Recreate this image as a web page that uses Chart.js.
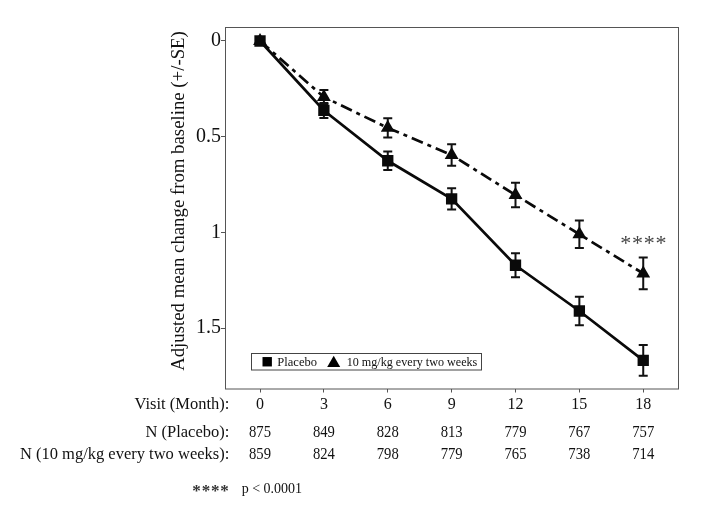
<!DOCTYPE html>
<html>
<head>
<meta charset="utf-8">
<script src="https://cdn.jsdelivr.net/npm/chart.js@4.4.1/dist/chart.umd.min.js"></script>
<style>
  html, body { margin: 0; padding: 0; background: #fff; }
  #wrap { position: relative; width: 718px; height: 507px; }
</style>
</head>
<body>
<div id="wrap"><canvas id="c"></canvas></div>
<script>
// ---- data ----
const months = [0, 3, 6, 9, 12, 15, 18];
const placeboMean = [0, 0.363, 0.626, 0.825, 1.172, 1.411, 1.669];
const placeboSE   = [0, 0.039, 0.048, 0.055, 0.063, 0.075, 0.080];
const treatMean   = [0, 0.293, 0.454, 0.596, 0.805, 1.010, 1.215];
const treatSE     = [0, 0.037, 0.050, 0.056, 0.064, 0.072, 0.083];
const nPlacebo = [875, 849, 828, 813, 779, 767, 757];
const nTreat   = [859, 824, 798, 779, 765, 738, 714];
const yTicks = [0, 0.5, 1, 1.5];
const seriesLabels = ['Placebo', '10 mg/kg every two weeks'];
const rowLabels = ['Visit (Month):', 'N (Placebo):', 'N (10 mg/kg every two weeks):'];
const yTitle = 'Adjusted mean change from baseline (+/-SE)';
const sigMark = '****';
const footnote = 'p < 0.0001';

const SERIF = '"Liberation Serif", "Times New Roman", serif';

const toPoints = (xs, ys) => xs.map((x, i) => ({ x: x, y: ys[i] }));

// draw text squeezed horizontally to a target width
function fitText(ctx, text, x, y, width, align) {
  const w = ctx.measureText(text).width;
  const k = Math.min(1, width / w);
  ctx.save();
  ctx.translate(x, y);
  ctx.scale(k, 1);
  ctx.textAlign = align;
  ctx.fillText(text, 0, 0);
  ctx.restore();
}

const extras = {
  id: 'extras',
  beforeDatasetsDraw(chart) {
    const ctx = chart.ctx, xs = chart.scales.x, ys = chart.scales.y;
    ctx.save();
    ctx.strokeStyle = '#111';
    ctx.lineWidth = 2;
    const cap = 4.5;
    [[placeboMean, placeboSE], [treatMean, treatSE]].forEach(([m, se]) => {
      months.forEach((mo, i) => {
        if (!se[i]) return;
        const px = xs.getPixelForValue(mo);
        const y1 = ys.getPixelForValue(m[i] - se[i]);
        const y2 = ys.getPixelForValue(m[i] + se[i]);
        ctx.beginPath();
        ctx.moveTo(px, y1); ctx.lineTo(px, y2);
        ctx.moveTo(px - cap, y1); ctx.lineTo(px + cap, y1);
        ctx.moveTo(px - cap, y2); ctx.lineTo(px + cap, y2);
        ctx.stroke();
      });
    });
    ctx.restore();
  },
  afterDraw(chart) {
    const ctx = chart.ctx, xs = chart.scales.x, ys = chart.scales.y, a = chart.chartArea;
    ctx.save();
    // plot box
    ctx.strokeStyle = '#555';
    ctx.lineWidth = 1;
    ctx.strokeRect(a.left + 0.5, a.top + 0.5, a.right - a.left - 1, a.bottom - a.top);

    // y title
    ctx.save();
    ctx.fillStyle = '#111';
    ctx.font = '18.8px ' + SERIF;
    ctx.translate(183.5, 201);
    ctx.rotate(-Math.PI / 2);
    ctx.textAlign = 'center';
    ctx.textBaseline = 'alphabetic';
    ctx.fillText(yTitle, 0, 0);
    ctx.restore();

    // significance stars in plot
    ctx.fillStyle = '#444';
    ctx.font = '22px ' + SERIF;
    ctx.textAlign = 'center';
    ctx.textBaseline = 'alphabetic';
    const sx = xs.getPixelForValue(18), sy = ys.getPixelForValue(1.036);
    for (let k = 0; k < sigMark.length; k++) {
      ctx.fillText(sigMark[k], sx - 17.6 + k * 11.75, sy + 10.3);
    }

    // legend box
    const lx = 251.5, ly = 353.5, lw = 230, lh = 16.5;
    ctx.fillStyle = '#fff';
    ctx.fillRect(lx, ly, lw, lh);
    ctx.strokeStyle = '#444';
    ctx.lineWidth = 1;
    ctx.strokeRect(lx, ly, lw, lh);
    const lcy = ly + lh / 2;
    ctx.fillStyle = '#000';
    ctx.fillRect(262.5, lcy - 4.7, 9.4, 9.4);
    ctx.beginPath();
    ctx.moveTo(333.7, lcy - 6);
    ctx.lineTo(340.2, lcy + 5.2);
    ctx.lineTo(327.2, lcy + 5.2);
    ctx.closePath();
    ctx.fill();
    ctx.fillStyle = '#111';
    ctx.font = '13px ' + SERIF;
    ctx.textBaseline = 'middle';
    fitText(ctx, seriesLabels[0], 277.3, lcy + 0.5, 39.7, 'left');
    fitText(ctx, seriesLabels[1], 346.7, lcy + 0.5, 130.6, 'left');

    // table below
    ctx.fillStyle = '#111';
    ctx.font = '16.5px ' + SERIF;
    ctx.textBaseline = 'middle';
    const rowY = [405, 432.5, 455];
    const rowW = [96.7, 93.3, 212.3];
    rowLabels.forEach((t, i) => fitText(ctx, t, 229.3, rowY[i], rowW[i], 'right'));
    ctx.font = '16.5px ' + SERIF;
    months.forEach((mo, i) => {
      const px = xs.getPixelForValue(mo);
      fitText(ctx, String(nPlacebo[i]), px, rowY[1], 22, 'center');
      fitText(ctx, String(nTreat[i]), px, rowY[2], 22, 'center');
    });

    // footnote
    ctx.textAlign = 'center';
    ctx.textBaseline = 'alphabetic';
    ctx.fillStyle = '#333';
    ctx.font = 'bold 17px ' + SERIF;
    for (let k = 0; k < sigMark.length; k++) {
      ctx.fillText(sigMark[k], 196.6 + k * 9.3, 495.5);
    }
    ctx.fillStyle = '#111';
    ctx.textAlign = 'left';
    ctx.font = '14px ' + SERIF;
    ctx.fillText(footnote, 241.7, 492.7);
    ctx.restore();
  }
};

new Chart(document.getElementById('c'), {
  type: 'line',
  data: {
    datasets: [
      {
        label: seriesLabels[0],
        data: toPoints(months, placeboMean),
        borderColor: '#0a0a0a',
        backgroundColor: '#0a0a0a',
        borderWidth: 2.7,
        pointStyle: 'rect',
        pointRadius: 8,
        pointHoverRadius: 8,
        pointBorderWidth: 0,
        tension: 0
      },
      {
        label: seriesLabels[1],
        data: toPoints(months, treatMean),
        borderColor: '#0a0a0a',
        backgroundColor: '#0a0a0a',
        borderWidth: 2.7,
        borderDash: [12, 5, 4, 5],
        pointStyle: 'triangle',
        pointRadius: 8,
        pointHoverRadius: 8,
        pointBorderWidth: 0,
        tension: 0
      }
    ]
  },
  options: {
    responsive: true,
    maintainAspectRatio: false,
    animation: false,
    events: [],
    layout: { padding: { left: 0, top: 27, right: 39, bottom: 0 } },
    plugins: { legend: { display: false }, tooltip: { enabled: false } },
    scales: {
      x: {
        type: 'linear',
        min: -1.645,
        max: 19.68,
        afterBuildTicks: (s) => { s.ticks = months.map(v => ({ value: v })); },
        afterFit: (s) => { s.height = 118.5; },
        grid: { display: true, drawOnChartArea: false, drawTicks: true, tickLength: 4, color: '#555', tickColor: '#555' },
        border: { display: false },
        ticks: {
          color: '#111',
          padding: 3,
          maxRotation: 0,
          autoSkip: false,
          font: { family: SERIF, size: 16 },
          callback: (v) => String(v)
        }
      },
      y: {
        type: 'linear',
        reverse: true,
        min: -0.073,
        max: 1.816,
        afterBuildTicks: (s) => { s.ticks = yTicks.map(v => ({ value: v })); },
        afterFit: (s) => { s.width = 225; },
        grid: { display: true, drawOnChartArea: false, drawTicks: true, tickLength: 4, color: '#555', tickColor: '#555' },
        border: { display: false },
        ticks: {
          color: '#111',
          padding: 0,
          autoSkip: false,
          font: { family: SERIF, size: 20 },
          callback: (v) => String(v)
        }
      }
    }
  },
  plugins: [extras]
});
</script>
</body>
</html>
